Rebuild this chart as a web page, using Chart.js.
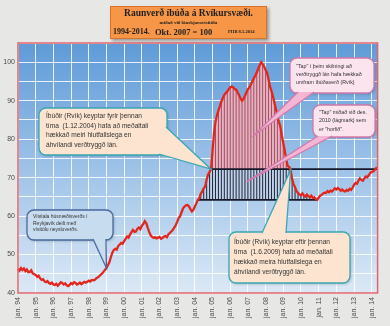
<!DOCTYPE html>
<html>
<head>
<meta charset="utf-8">
<script src="https://cdn.jsdelivr.net/npm/chart.js@4"></script>
<style>
  html, body { margin: 0; padding: 0; background: #e7e7e5; }
  #wrap { position: relative; width: 390px; height: 326px; overflow: hidden; }
  #chart { position: absolute; left: 0; top: 0; }
  .note { position: absolute; font-family: "Liberation Sans", Arial, sans-serif; color: #333; white-space: nowrap; }
  #title { position: absolute; left: 110px; top: 6px; width: 155px; height: 31px; background: #f79646;
           border: 1px solid #d7732a; box-shadow: 2px 2px 3px rgba(0,0,0,0.35); font-family: "Liberation Serif", serif;
           font-weight: bold; color: #1e1e1e; }
  #title span { position: absolute; white-space: nowrap; }
</style>
</head>
<body>
<div id="wrap">
  <canvas id="chart" width="390" height="326"></canvas>
  <div id="title">
    <span style="left:0;width:155px;text-align:center;top:1px;font-size:9.5px;line-height:11px">Raunverð íbúða á Rvíkursvæði.</span>
    <span style="left:0;width:155px;text-align:center;top:12.5px;font-size:5px;line-height:6px">miðað við lánskjaravísitölu</span>
    <span style="left:2px;top:19.5px;font-size:8px;line-height:10px">1994-2014.</span>
    <span style="left:44px;top:19.5px;font-size:8.5px;line-height:10px">Okt. 2007 = 100</span>
    <span style="left:117px;top:22px;font-size:4.6px;line-height:6px">PHB 8.5.2014</span>
  </div>
  <div class="note" style="left:46px;top:111px;font-size:6.6px;line-height:9.6px">Íbúðir (Rvík) keyptar fyrir þennan<br>tíma&nbsp; (1.12.2004) hafa að meðaltali<br>hækkað meiri hlutfallslega en<br>áhvílandi verðtryggð lán.</div>
  <div class="note" style="left:33px;top:213px;font-size:5px;line-height:6.5px">Vísitala húsnæðisverðs í<br>Reykjavík deilt með<br>vísitölu neysluverðs.</div>
  <div class="note" style="left:296px;top:62px;font-size:5.3px;line-height:8px">"Tap" í þeim skilningi að<br>verðtryggð lán hafa hækkað<br>umfram íbúðaverð (Rvík)</div>
  <div class="note" style="left:319px;top:108px;font-size:5.3px;line-height:8.3px">"Tap" miðað við des.<br>2010 (lágmark) sem<br>er "horfið".</div>
  <div class="note" style="left:234px;top:237px;font-size:6.6px;line-height:10px">Íbúðir (Rvík) keyptar eftir þennan<br>tíma&nbsp; (1.6.2009) hafa að meðaltali<br>hækkað meira hlutfallslega en<br>áhvílandi verðtryggð lán.</div>
</div>
<script>
// x-axis tick labels, one per January
var tickLabels = ['jan. 94', 'jan. 95', 'jan. 96', 'jan. 97', 'jan. 98', 'jan. 99', 'jan. 00',
    'jan. 01', 'jan. 02', 'jan. 03', 'jan. 04', 'jan. 05', 'jan. 06', 'jan. 07', 'jan. 08',
    'jan. 09', 'jan. 10', 'jan. 11', 'jan. 12', 'jan. 13', 'jan. 14'];

// monthly real price index, jan 1994 - may 2014 (okt 2007 = 100)
var priceIndex = [
    46.3, 45.8, 46.5, 46.0, 46.4, 45.7, 46.1, 45.4, 45.5, 45.9, 45.1, 44.9,
    44.7, 44.2, 44.5, 43.8, 43.4, 43.6, 43.0, 42.8, 43.1, 42.6, 42.4, 42.7,
    42.2, 42.1, 42.4, 41.9, 42.3, 42.8, 42.6, 42.2, 42.5, 42.0, 41.8, 42.1,
    42.6, 42.3, 42.8, 42.6, 42.2, 42.4, 42.7, 42.3, 42.6, 42.9, 42.7, 42.9,
    43.2, 43.0, 43.4, 43.3, 43.4, 43.8, 44.0, 44.3, 44.7, 45.0, 45.5, 46.0,
    46.5, 47.2, 48.0, 49.3, 50.5, 51.2, 51.5, 51.3, 52.2, 52.6, 53.0, 52.8,
    53.5, 54.1, 54.7, 54.4, 55.2, 55.8, 56.4, 55.9, 56.0, 56.7, 57.0, 56.6,
    57.5, 57.9, 58.7, 58.2, 57.0, 55.9, 55.0, 54.6, 54.3, 54.5, 54.2, 54.4,
    54.6, 54.1, 54.3, 54.7, 54.8, 54.5, 55.2, 55.6, 56.0, 56.4, 57.0, 57.6,
    58.5, 59.5, 60.0, 61.0, 62.0, 62.5, 62.8, 62.9, 62.5, 61.8, 61.2, 61.6,
    62.5, 63.3, 64.2, 64.6, 65.8, 66.4, 67.2, 67.7, 69.5, 70.8, 71.5, 72.2,
    77.0, 81.5, 84.5, 86.2, 87.5, 88.6, 89.8, 90.7, 91.5, 92.0, 92.4, 93.0,
    93.5, 93.7, 93.5, 93.0, 92.9, 92.2, 91.4, 90.6, 90.0, 90.4, 91.3, 92.2,
    93.0, 93.4, 94.2, 95.0, 95.8, 96.5, 97.3, 98.3, 99.2, 100.0, 99.5, 98.9,
    98.0, 97.2, 95.5, 93.7, 92.5, 91.1, 89.5, 87.8, 86.2, 84.5, 83.3, 81.0,
    79.0, 77.0, 74.8, 73.0, 72.8, 72.0, 69.6, 68.3, 67.5, 66.5, 66.0, 65.6,
    65.5, 65.9, 65.3, 65.1, 65.6, 65.2, 64.9, 65.3, 64.7, 64.9, 64.4, 64.2,
    64.8, 65.3, 65.5, 65.9, 66.1, 66.0, 66.5, 66.2, 66.6, 66.4, 66.8, 67.2,
    66.9, 67.3, 67.0, 66.6, 66.9, 66.5, 66.4, 66.8, 66.6, 67.1, 66.8, 67.4,
    68.1, 68.6, 68.4, 69.2, 69.8, 69.4, 69.2, 69.8, 70.3, 70.1, 70.6, 71.2,
    71.5, 71.6, 72.0, 72.5, 72.6
];

// reference months (index into priceIndex)
var buyDate = 131;   // 1.12.2004
var lowDate = 203;   // des. 2010 (lágmark)
var lowStart = 122;  // where the index first reaches the low level
var sellDate = 185;  // 1.6.2009

var upperLevel = priceIndex[buyDate];
var lowerLevel = priceIndex[lowDate];

var labels = [];
for (var i = 0; i < priceIndex.length; i++) {
    labels.push(i % 12 === 0 ? tickLabels[i / 12] : '');
}

var upperLine = [], lowerLine = [];
var pinkBars = [], pinkStripes = [], darkBars = [], darkStripes = [];
for (var i = 0; i < priceIndex.length; i++) {
    var v = priceIndex[i];
    upperLine.push(i >= buyDate ? upperLevel : null);
    lowerLine.push(i >= lowStart && i <= lowDate ? lowerLevel : null);
    var pink = (i >= buyDate && i <= sellDate && v > upperLevel) ? [upperLevel, v] : null;
    pinkBars.push(pink);
    pinkStripes.push(i % 2 === 0 ? pink : null);
    var dark = (i >= lowStart && i <= lowDate) ? [lowerLevel, Math.min(v, upperLevel)] : null;
    darkBars.push(dark);
    darkStripes.push(i % 2 === 0 ? dark : null);
}

// callout shapes; tips point at data through the scales
var callouts = [
    { box: [39, 108, 167, 155], base: [[166, 127], [159, 154]], tip: [buyDate, upperLevel], fill: '#fde4d0', wedge: '#fde4d0', stroke: '#3aa7b3' },
    { box: [27, 210, 113, 240], base: [[93, 239], [106, 239]], tip: [60, priceIndex[60]], fill: '#c8dcef', wedge: '#c8dcef', stroke: '#4a6a9c' },
    { box: [290, 58, 374, 93], base: [[298, 92], [314, 92]], tip: [159, 80.6], fill: '#fbe4ee', wedge: '#f3b6d4', stroke: '#d27aa9' },
    { box: [313, 105, 375, 137], base: [[318, 136], [332, 136]], tip: [155, 68.9], fill: '#fbe4ee', wedge: '#f3b6d4', stroke: '#d27aa9' },
    { box: [229, 232, 350, 283], base: [[262, 233], [286, 233]], tip: [sellDate, priceIndex[sellDate]], fill: '#fde4d0', wedge: '#fde4d0', stroke: '#3aa7b3' }
];

function roundRect(ctx, x0, y0, x1, y1, r) {
    ctx.beginPath();
    ctx.moveTo(x0 + r, y0);
    ctx.arcTo(x1, y0, x1, y1, r);
    ctx.arcTo(x1, y1, x0, y1, r);
    ctx.arcTo(x0, y1, x0, y0, r);
    ctx.arcTo(x0, y0, x1, y0, r);
    ctx.closePath();
}

var decor = {
    id: 'decor',
    beforeDraw: function (chart) {
        var a = chart.chartArea, ctx = chart.ctx;
        var g = ctx.createLinearGradient(0, a.top, 0, a.bottom);
        g.addColorStop(0, '#5f9bd8');
        g.addColorStop(0.5, '#9dc2e8');
        g.addColorStop(1, '#dce9f6');
        ctx.save();
        ctx.fillStyle = g;
        ctx.fillRect(a.left, a.top, a.right - a.left, a.bottom - a.top);
        ctx.restore();
    },
    afterDraw: function (chart) {
        var a = chart.chartArea, ctx = chart.ctx;
        var xs = chart.scales.x, ys = chart.scales.y;
        ctx.save();
        ctx.strokeStyle = '#e2646c';
        ctx.lineWidth = 1.5;
        ctx.strokeRect(a.left, a.top, a.right - a.left, a.bottom - a.top);

        callouts.forEach(function (c) {
            var b = c.box;
            var tx = xs.getPixelForValue(c.tip[0]), ty = ys.getPixelForValue(c.tip[1]);
            ctx.save();
            ctx.shadowColor = 'rgba(0,0,0,0.25)';
            ctx.shadowBlur = 3;
            ctx.shadowOffsetX = 1;
            ctx.shadowOffsetY = 1;
            roundRect(ctx, b[0], b[1], b[2], b[3], 7);
            ctx.fillStyle = c.fill;
            ctx.fill();
            ctx.restore();
            ctx.lineWidth = 1.3;
            ctx.strokeStyle = c.stroke;
            roundRect(ctx, b[0], b[1], b[2], b[3], 7);
            ctx.stroke();
            // wedge
            ctx.beginPath();
            ctx.moveTo(c.base[0][0], c.base[0][1]);
            ctx.lineTo(tx, ty);
            ctx.lineTo(c.base[1][0], c.base[1][1]);
            ctx.closePath();
            ctx.fillStyle = c.wedge;
            ctx.fill();
            ctx.beginPath();
            ctx.moveTo(c.base[0][0], c.base[0][1]);
            ctx.lineTo(tx, ty);
            ctx.lineTo(c.base[1][0], c.base[1][1]);
            ctx.stroke();
        });
        ctx.restore();
    }
};

var tickFont = { family: 'Liberation Sans', size: 7 };

new Chart(document.getElementById('chart').getContext('2d'), {
    type: 'line',
    data: {
        labels: labels,
        datasets: [
            { type: 'line', data: priceIndex, borderColor: '#e2261c', borderWidth: 2.3, pointRadius: 0, tension: 0, order: 0 },
            { type: 'line', data: upperLine, borderColor: '#16192a', borderWidth: 1.6, pointRadius: 0, order: 1 },
            { type: 'line', data: lowerLine, borderColor: '#16192a', borderWidth: 1.6, pointRadius: 0, order: 1 },
            { type: 'bar', data: pinkStripes, backgroundColor: '#a8485c', grouped: false, barPercentage: 1, categoryPercentage: 0.65, order: 2 },
            { type: 'bar', data: darkStripes, backgroundColor: '#1e2b47', grouped: false, barPercentage: 1, categoryPercentage: 0.7, order: 2 },
            { type: 'bar', data: pinkBars, backgroundColor: '#e2b4c2', grouped: false, barPercentage: 1, categoryPercentage: 1, order: 3 },
            { type: 'bar', data: darkBars, backgroundColor: '#c3d2e4', grouped: false, barPercentage: 1, categoryPercentage: 1, order: 3 }
        ]
    },
    options: {
        responsive: false,
        animation: false,
        layout: { padding: { left: 1, right: 3, top: 43, bottom: 0 } },
        plugins: { legend: { display: false }, tooltip: { enabled: false } },
        scales: {
            x: {
                type: 'category',
                offset: false,
                border: { display: false },
                grid: {
                    offset: false,
                    drawTicks: false,
                    color: function (c) { return c.index % 12 === 0 ? 'rgba(255,255,255,0.85)' : 'rgba(0,0,0,0)'; }
                },
                ticks: { autoSkip: false, minRotation: 90, maxRotation: 90, padding: 4, color: '#4a4a4a', font: tickFont },
                afterFit: function (s) { s.height = 33; }
            },
            y: {
                min: 40,
                max: 105,
                border: { display: false },
                grid: { drawTicks: false, color: 'rgba(255,255,255,0.85)' },
                ticks: {
                    stepSize: 5,
                    padding: 3,
                    color: '#4a4a4a',
                    font: tickFont,
                    callback: function (v) { return v % 10 === 0 && v <= 100 ? v : ''; }
                },
                afterFit: function (s) { s.width = 17; }
            }
        }
    },
    plugins: [decor]
});
</script>
</body>
</html>
